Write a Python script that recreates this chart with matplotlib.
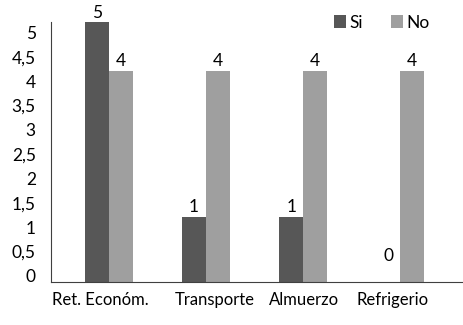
import numpy as np
import matplotlib.pyplot as plt
from matplotlib.transforms import ScaledTranslation

categorias = ["Ret. Económ.", "Transporte", "Almuerzo", "Refrigerio"]
si = [5, 1, 1, 0]
no = [4, 4, 4, 4]
yticks = [0, 0.5, 1, 1.5, 2, 2.5, 3, 3.5, 4, 4.5, 5]
ytick_labels = ["0", "0,5", "1", "1,5", "2", "2,5", "3", "3,5", "4", "4,5", "5"]

plt.rcParams["font.family"] = ["Lato", "DejaVu Sans"]

c_si = "#575757"
c_no = "#9f9f9f"
base = -0.34  # bars hang down to the axis line, below zero
w = 0.245
fs = 12.5

fig = plt.figure(figsize=(4.63, 3.25), dpi=100)
ax = fig.add_axes([51 / 463, 1 - 282 / 325, 1 - 51 / 463, 260 / 325])

x = np.arange(len(categorias))
si_arr = np.array(si, dtype=float)
no_arr = np.array(no, dtype=float)
h_si = np.where(si_arr > 0, si_arr - base, 0)
h_no = np.where(no_arr > 0, no_arr - base, 0)

ax.bar(x - w / 2, h_si, w, bottom=base, color=c_si, label="Si")
ax.bar(x + w / 2, h_no, w, bottom=base, color=c_no, label="No")

for xi, v in zip(x - w / 2, si):
    ax.annotate(str(v), (xi, v), xytext=(0, 1), textcoords="offset points",
                ha="center", va="bottom", fontsize=fs, color="black")
for xi, v in zip(x + w / 2, no):
    ax.annotate(str(v), (xi, v), xytext=(0, 1), textcoords="offset points",
                ha="center", va="bottom", fontsize=fs, color="black")

ax.set_xlim(-0.595, 3.646)
ax.set_ylim(base, 5)
ax.set_yticks(yticks)
ax.set_yticklabels(ytick_labels, fontsize=fs)
ax.set_xticks(x)
ax.set_xticklabels(categorias, fontsize=12)
ax.tick_params(axis="y", length=0, pad=11)
ax.tick_params(axis="x", length=0, pad=7)

# y labels sit a little below their values
shift = ScaledTranslation(0, -10.5 / 100, fig.dpi_scale_trans)
for lab in ax.get_yticklabels():
    lab.set_transform(lab.get_transform() + shift)

# nudge category labels apart so they don't run together
dx = [-8, 9, 1, -8]
for lab, d in zip(ax.get_xticklabels(), dx):
    lab.set_transform(lab.get_transform() + ScaledTranslation(d / 100, 0, fig.dpi_scale_trans))

for s in ["top", "right"]:
    ax.spines[s].set_visible(False)
ax.spines["left"].set_color("#404040")
ax.spines["bottom"].set_color("#404040")

fig.legend(loc="center", bbox_to_anchor=(381.5 / 463, 1 - 22.5 / 325), ncol=2,
           frameon=False, fontsize=fs, handlelength=0.7, handleheight=0.7,
           handletextpad=0.2, columnspacing=1.6)

fig.savefig("out.png", dpi=100)
